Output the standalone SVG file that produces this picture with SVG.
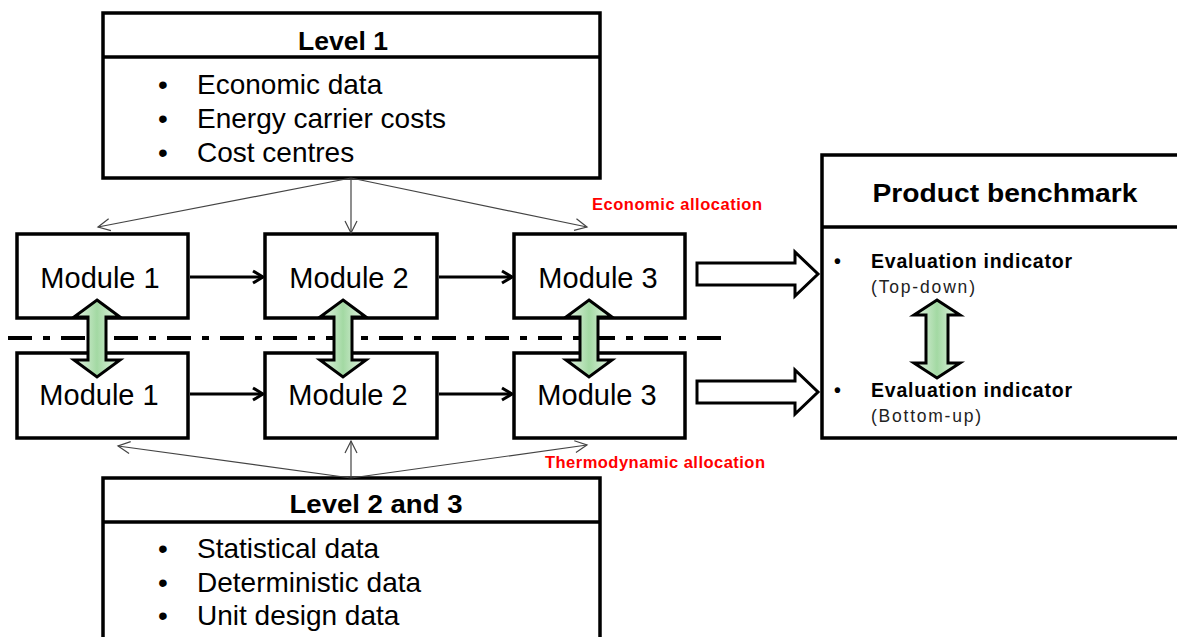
<svg xmlns="http://www.w3.org/2000/svg" width="1177" height="637" viewBox="0 0 1177 637">
  <style>
    .box { fill: #ffffff; stroke: #000000; stroke-width: 3.5; }
    .div { stroke: #000000; stroke-width: 3.5; }
    .title { font-family: "Liberation Sans", Arial, sans-serif; font-weight: bold; font-size: 26.5px; fill: #000; text-anchor: middle; }
    .item { font-family: "Liberation Sans", Arial, sans-serif; font-size: 28px; fill: #000; }
    .mod { font-family: "Liberation Sans", Arial, sans-serif; font-size: 29px; fill: #000; text-anchor: middle; }
    .red { font-family: "Liberation Sans", Arial, sans-serif; font-weight: bold; font-size: 16.5px; fill: #ff0000; }
    .ind { font-family: "Liberation Sans", Arial, sans-serif; font-weight: bold; font-size: 19.5px; fill: #000; }
    .sub { font-family: "Liberation Sans", Arial, sans-serif; font-size: 17.5px; fill: #222; }
    .thin { fill: none; stroke: #444; stroke-width: 1.2; marker-end: url(#thinHead); }
    .flow { fill: none; stroke: #000; stroke-width: 3; marker-end: url(#boldHead); }
    .dbl { fill: url(#greenFill); stroke: #000; stroke-width: 3; stroke-linejoin: miter; }
    .hollow { fill: #fff; stroke: #000; stroke-width: 3; stroke-linejoin: miter; }
  </style>
  <defs>
    <marker id="thinHead" markerUnits="userSpaceOnUse" markerWidth="16" markerHeight="16" viewBox="0 0 16 16" refX="14" refY="8" orient="auto">
      <path d="M2,2 L14,8 L2,14" fill="none" stroke="#444" stroke-width="1.2"/>
    </marker>
    <marker id="boldHead" markerUnits="userSpaceOnUse" markerWidth="16" markerHeight="16" viewBox="0 0 16 16" refX="14" refY="8" orient="auto">
      <path d="M4,2 L14,8 L4,14" fill="none" stroke="#000" stroke-width="3"/>
    </marker>
    <linearGradient id="greenFill" x1="0" y1="0" x2="1" y2="0">
      <stop offset="0" stop-color="#e8f5e8"/>
      <stop offset="0.5" stop-color="#a3d9a3"/>
      <stop offset="1" stop-color="#e8f5e8"/>
    </linearGradient>
  </defs>

  <!-- data level 1 -->
  <g id="level1">
    <rect class="box" x="103" y="13" width="497" height="165"/>
    <line class="div" x1="103" y1="57" x2="600" y2="57"/>
    <text class="title" x="343" y="50" textLength="90" lengthAdjust="spacingAndGlyphs">Level 1</text>
    <text class="item" x="158" y="94">•</text>
    <text class="item" x="197" y="94">Economic data</text>
    <text class="item" x="158" y="128">•</text>
    <text class="item" x="197" y="128">Energy carrier costs</text>
    <text class="item" x="158" y="162">•</text>
    <text class="item" x="197" y="162">Cost centres</text>
  </g>

  <!-- data levels 2 and 3 -->
  <g id="level23">
    <rect class="box" x="103" y="478" width="497" height="200"/>
    <line class="div" x1="103" y1="522" x2="600" y2="522"/>
    <text class="title" x="376" y="513" textLength="173" lengthAdjust="spacingAndGlyphs">Level 2 and 3</text>
    <text class="item" x="158" y="558">•</text>
    <text class="item" x="197" y="558">Statistical data</text>
    <text class="item" x="158" y="592">•</text>
    <text class="item" x="197" y="592">Deterministic data</text>
    <text class="item" x="158" y="625">•</text>
    <text class="item" x="197" y="625">Unit design data</text>
  </g>

  <!-- top-down modules -->
  <g id="td-module1">
    <rect class="box" x="17" y="234" width="171" height="84"/>
    <text class="mod" x="100" y="288">Module 1</text>
  </g>
  <g id="td-module2">
    <rect class="box" x="265" y="234" width="172" height="84"/>
    <text class="mod" x="349" y="288">Module 2</text>
  </g>
  <g id="td-module3">
    <rect class="box" x="514" y="234" width="171" height="84"/>
    <text class="mod" x="598" y="288">Module 3</text>
  </g>

  <!-- bottom-up modules -->
  <g id="bu-module1">
    <rect class="box" x="17" y="353" width="171" height="85"/>
    <text class="mod" x="99" y="405">Module 1</text>
  </g>
  <g id="bu-module2">
    <rect class="box" x="265" y="353" width="172" height="85"/>
    <text class="mod" x="348" y="405">Module 2</text>
  </g>
  <g id="bu-module3">
    <rect class="box" x="514" y="353" width="171" height="85"/>
    <text class="mod" x="597" y="405">Module 3</text>
  </g>

  <!-- product benchmark -->
  <g id="benchmark">
    <rect class="box" x="822" y="155" width="400" height="283"/>
    <line class="div" x1="822" y1="227" x2="1177" y2="227"/>
    <text class="title" x="1005" y="202" font-size="28" textLength="265" lengthAdjust="spacingAndGlyphs">Product benchmark</text>
    <text class="ind" x="834" y="268" font-weight="normal">•</text>
    <text class="ind" x="871" y="268" textLength="201" lengthAdjust="spacing">Evaluation indicator</text>
    <text class="sub" x="871" y="293" textLength="104" lengthAdjust="spacing">(Top-down)</text>
    <text class="ind" x="834" y="397" font-weight="normal">•</text>
    <text class="ind" x="871" y="397" textLength="201" lengthAdjust="spacing">Evaluation indicator</text>
    <text class="sub" x="871" y="422" textLength="110" lengthAdjust="spacing">(Bottom-up)</text>
  </g>

  <!-- allocation labels -->
  <g id="labels">
    <text class="red" x="592" y="210" textLength="170" lengthAdjust="spacing">Economic allocation</text>
    <text class="red" x="545" y="468" textLength="220" lengthAdjust="spacing">Thermodynamic allocation</text>
  </g>

  <!-- connectors -->
  <g id="connectors">
    <path class="thin" d="M351,178 L98,227"/>
    <path class="thin" d="M351,178 L351,233"/>
    <path class="thin" d="M351,178 L587,227"/>
    <path class="thin" d="M351,478 L118,446"/>
    <path class="thin" d="M351,478 L351,441"/>
    <path class="thin" d="M351,478 L587,445"/>

    <path class="flow" d="M190,277 L263,277"/>
    <path class="flow" d="M439,277 L512,277"/>
    <path class="flow" d="M190,394 L263,394"/>
    <path class="flow" d="M439,394 L512,394"/>

    <line x1="8" y1="338" x2="723" y2="338" stroke="#000" stroke-width="4" stroke-dasharray="24 11 7 11"/>

    <path class="dbl" d="M97,300 L120,317 L106,317 L106,360 L120,360 L97,377 L74,360 L88,360 L88,317 L74,317 Z"/>
    <path class="dbl" d="M343,300 L366,317 L352,317 L352,360 L366,360 L343,377 L320,360 L334,360 L334,317 L320,317 Z"/>
    <path class="dbl" d="M589,300 L612,317 L598,317 L598,360 L612,360 L589,377 L566,360 L580,360 L580,317 L566,317 Z"/>
    <path class="dbl" d="M937,300 L960,315 L948,315 L948,363 L960,363 L937,378 L914,363 L926,363 L926,315 L914,315 Z"/>

    <path class="hollow" d="M697,263 L795,263 L795,252 L818,274 L795,296 L795,285 L697,285 Z"/>
    <path class="hollow" d="M697,381 L795,381 L795,370 L818,392 L795,414 L795,403 L697,403 Z"/>
  </g>
</svg>
